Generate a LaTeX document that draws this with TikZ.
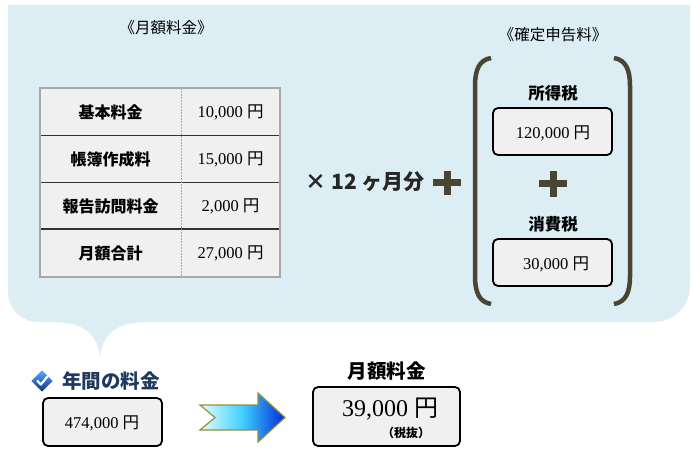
\documentclass[tikz,border=0pt]{standalone}
\usepackage{fontspec}
\setmainfont{Liberation Serif}
\newfontfamily\jp{Noto Sans CJK JP}
\newfontfamily\jpheavy{Noto Sans CJK JP Black}
\definecolor{bgblue}{HTML}{DCEDF4}
\definecolor{cellgray}{HTML}{F0F0F0}
\definecolor{olive}{HTML}{4A4433}
\definecolor{navy}{HTML}{1E3A5F}
\definecolor{bordergray}{HTML}{A8A8A8}
\tikzset{
  lbl/.style={font=\jp\bfseries\fontsize{16}{18}\selectfont, inner sep=0pt},
  val/.style={font=\fontsize{16.5}{18}\selectfont, inner sep=0pt},
  ttl/.style={font=\jp\fontsize{15.5}{17}\selectfont, inner sep=0pt},
  valbox/.style={draw=black, line width=1.8pt, rounded corners=5pt, fill=cellgray, inner sep=0pt},
  plusbar/.style={draw=olive, line width=7pt},
  bracket/.style={draw=olive, line width=4.5pt},
}
\newcommand{\yen}{{\jp 円}}
\begin{document}
\begin{tikzpicture}[x=1pt,y=-1pt]
\useasboundingbox (0,0) rectangle (700,462);
\fill[white] (0,0) rectangle (700,462);
% speech bubble background
\fill[bgblue] (8,5) -- (690,5) -- (690,286) arc[start angle=0,end angle=90,radius=36] -- (148,322)
  .. controls (116,322) and (102,334) .. (100,358)
  .. controls (98,334) and (84,322) .. (52,322)
  -- (38,322) arc[start angle=90,end angle=180,radius=30] -- cycle;
% titles
\node[ttl] (t1) at (166,28) {《月額料金》};
\node[ttl] (t2) at (553,35) {《確定申告料》};
% table
\fill[cellgray] (40,88) rectangle (280,277);
\draw[black!80, line width=0.9pt] (40,135) -- (280,135);
\draw[black!80, line width=0.9pt] (40,182) -- (280,182);
\draw[black!80, line width=1.6pt] (40,229) -- (280,229);
\draw[bordergray, dash pattern=on 2pt off 1pt, line width=0.8pt] (181,88) -- (181,277);
\draw[bordergray, line width=2pt] (40,88) rectangle (280,277);
\node[lbl] (l1) at (110.5,112) {基本料金};
\node[lbl] (l2) at (110.5,159) {帳簿作成料};
\node[lbl] (l3) at (110.5,206) {報告訪問料金};
\node[lbl] (l4) at (110.5,253) {月額合計};
\node[val] (v1) at (230.5,112) {10,000 \yen};
\node[val] (v2) at (230.5,159) {15,000 \yen};
\node[val] (v3) at (230.5,206) {2,000 \yen};
\node[val] (v4) at (230.5,253) {27,000 \yen};
% x 12 months
\node[font=\jpheavy\fontsize{21}{23}\selectfont, text=black!85, inner sep=0pt] (mul) at (365,182) {× 12 ヶ月分};
% plus 1
\coordinate (p1) at (447,183);
\draw[plusbar] ([xshift=-14pt]p1) -- ([xshift=14pt]p1);
\draw[plusbar] ([yshift=-12pt]p1) -- ([yshift=12pt]p1);
% brackets
\draw[bracket] (491,58) .. controls (479,60) and (475,70) .. (475,86) -- (475,276) .. controls (475,292) and (479,302) .. (491,304);
\draw[bracket] (614,58) .. controls (626,60) and (630,70) .. (630,86) -- (630,276) .. controls (630,292) and (626,302) .. (614,304);
% tax items
\node[lbl, font=\jp\bfseries\fontsize{16.5}{18}\selectfont] (tx1) at (553,93) {所得税};
\node[valbox, minimum width=119pt, minimum height=47pt] (b1) at (552.5,131.5) {};
\node[val] (bv1) at (553,133) {120,000 \yen};
\coordinate (p2) at (553,184);
\draw[plusbar] ([xshift=-14pt]p2) -- ([xshift=14pt]p2);
\draw[plusbar] ([yshift=-13pt]p2) -- ([yshift=13pt]p2);
\node[lbl, font=\jp\bfseries\fontsize{16.5}{18}\selectfont] (tx2) at (553,224) {消費税};
\node[valbox, minimum width=119pt, minimum height=47pt] (b2) at (552.5,262.5) {};
\node[val] (bv2) at (556,264) {30,000 \yen};
% bottom left
\begin{scope}[shift={(42,381)}]
  \shade[top color=blue!45!cyan!70!white, bottom color=navy!80!blue, rotate=45] (-7.5,-7.5) rectangle (7.5,7.5);
  \draw[white, line width=2.2pt, line cap=round, line join=round] (-4.5,0) -- (-1.2,3.5) -- (5.5,-4.5);
\end{scope}
\node[font=\jp\bfseries\fontsize{19.5}{22}\selectfont, text=navy, inner sep=0pt, anchor=west] (nen) at (62,381) {年間の料金};
\node[valbox, minimum width=119pt, minimum height=48pt] (b3) at (102.5,422) {};
\node[val] (bv3) at (102,423) {474,000 \yen};
% gradient arrow
\shade[left color=cyan!10!white, right color=blue!80!cyan!85!black, middle color=cyan!75!blue!75!white]
  (200,405) -- (258,405) -- (258,393) -- (285,417.5) -- (258,442) -- (258,430) -- (200,430) -- (215,417.5) -- cycle;
\draw[draw=olive!55!yellow!70!gray, line width=1.2pt, line join=miter]
  (200,405) -- (258,405) -- (258,393) -- (285,417.5) -- (258,442) -- (258,430) -- (200,430) -- (215,417.5) -- cycle;
% monthly result
\node[font=\jp\bfseries\fontsize{19.5}{22}\selectfont, inner sep=0pt] (mt) at (386.5,371) {月額料金};
\node[valbox, minimum width=147pt, minimum height=59pt] (b4) at (386.5,416.5) {};
\node[font=\fontsize{24}{26}\selectfont, inner sep=0pt] (bv4) at (390,409) {39,000 {\jp 円}};
\node[font=\jp\bfseries\fontsize{12}{13}\selectfont, inner sep=0pt] (tax) at (406,433) {（税抜）};
\end{tikzpicture}
\end{document}
